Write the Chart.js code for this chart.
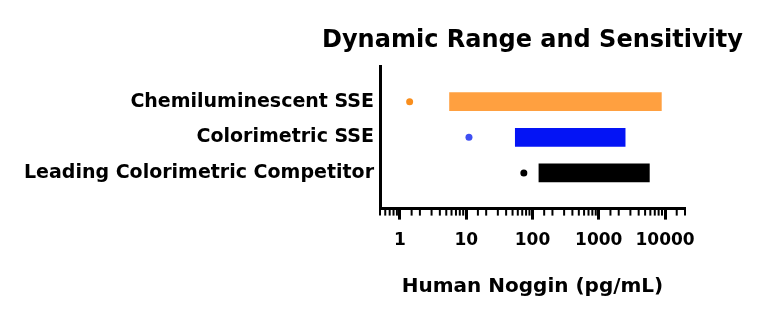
<!DOCTYPE html>
<html>
<head>
<meta charset="utf-8">
<script src="https://cdn.jsdelivr.net/npm/chart.js@4"></script>
<style>
  html, body { margin: 0; padding: 0; background: #fff; }
  #wrap { width: 768px; height: 322px; }
</style>
</head>
<body>
<div id="wrap"><canvas id="myChart"></canvas></div>
<script>
const chartTitle = 'Dynamic Range and Sensitivity';
const categories = ['Chemiluminescent SSE', 'Colorimetric SSE', 'Leading Colorimetric Competitor'];
const rangeLow = [5.6, 55, 125];
const rangeHigh = [8800, 2500, 5800];
const sensitivity = [1.4, 11, 74];
const tickValues = [1, 10, 100, 1000, 10000];
const barColors = ['#FFA040', '#0414F5', '#000000'];
const dotColors = ['#F98E1D', '#3F4FF2', '#000000'];

const FONT = '"DejaVu Sans", sans-serif';

// short minor ticks on the log axis + title centred over the plot area
const extras = {
  id: 'extras',
  afterDraw(chart) {
    const sc = chart.scales.x;
    const area = chart.chartArea;
    const ctx = chart.ctx;
    ctx.save();
    ctx.strokeStyle = '#000';
    ctx.lineWidth = 2;
    sc.ticks.forEach(t => {
      if (!tickValues.includes(t.value)) {
        const px = sc.getPixelForValue(t.value);
        ctx.beginPath();
        ctx.moveTo(px, sc.top);
        ctx.lineTo(px, sc.top + 7);
        ctx.stroke();
      }
    });
    ctx.fillStyle = '#000';
    ctx.font = 'bold 24px ' + FONT;
    ctx.textAlign = 'center';
    ctx.textBaseline = 'alphabetic';
    ctx.fillText(chartTitle, (area.left + area.right) / 2, area.top - 19);
    ctx.restore();
  }
};

const data = {
  datasets: [{
    type: 'scatter',
    data: categories.map((c, i) => ({ x: sensitivity[i], y: i + 1 })),
    pointBackgroundColor: dotColors,
    pointBorderWidth: 0,
    pointRadius: 3.5
  }, {
    type: 'bar',
    data: categories.map((c, i) => ({ x: [rangeLow[i], rangeHigh[i]], y: i + 1 })),
    backgroundColor: barColors,
    barThickness: 18
  }]
};

const config = {
  type: 'bar',
  data: data,
  plugins: [extras],
  options: {
    indexAxis: 'y',
    responsive: true,
    maintainAspectRatio: false,
    animation: false,
    layout: { padding: { left: 0, right: 83, top: 66, bottom: 23 } },
    plugins: { legend: { display: false }, tooltip: { enabled: false } },
    scales: {
      x: {
        type: 'logarithmic',
        position: 'bottom',
        min: 0.5,
        max: 20000,
        grid: {
          display: true,
          drawOnChartArea: false,
          drawTicks: true,
          tickLength: 11,
          tickWidth: 3,
          tickColor: ctx => (ctx.tick && tickValues.includes(ctx.tick.value)) ? '#000' : 'rgba(0,0,0,0)'
        },
        border: { display: true, color: '#000', width: 3 },
        ticks: {
          autoSkip: false,
          maxRotation: 0,
          minRotation: 0,
          padding: 11,
          color: '#000',
          font: { family: FONT, size: 17, weight: 'bold' },
          callback: v => tickValues.includes(v) ? String(v) : ''
        },
        title: {
          display: true,
          text: 'Human Noggin (pg/mL)',
          color: '#000',
          font: { family: FONT, size: 20, weight: 'bold' },
          padding: { top: 13, bottom: 0 }
        }
      },
      y: {
        type: 'linear',
        min: 0,
        max: 4,
        reverse: true,
        offset: false,
        grid: { display: true, drawOnChartArea: false, drawTicks: false, offset: false },
        border: { display: true, color: '#000', width: 3 },
        ticks: {
          stepSize: 1,
          padding: 6,
          color: '#000',
          font: { family: FONT, size: 19, weight: 'bold' },
          callback: v => categories[v - 1] || ''
        },
        afterFit: s => { s.width = 380; }
      }
    }
  }
};

var myChart = new Chart(document.getElementById('myChart'), config);
</script>
</body>
</html>
